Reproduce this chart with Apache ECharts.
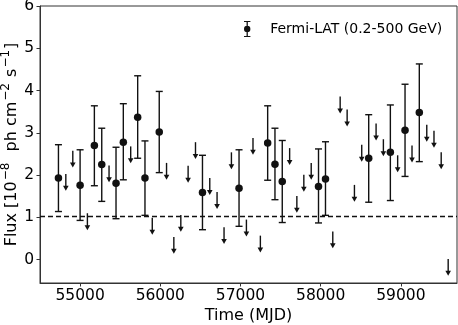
<!DOCTYPE html>
<html>
<head>
<meta charset="utf-8">
<script src="https://cdn.jsdelivr.net/npm/echarts@6/dist/echarts.min.js"></script>
<style>
  html, body { margin: 0; padding: 0; background: #fff; }
  #chart { width: 458px; height: 325px; }
</style>
</head>
<body>
<div id="chart"></div>
<script>
// detections (MJD, flux, lower and upper end of the error bar)
var detTime = [54730, 55000, 55178, 55270, 55448, 55539, 55718, 55809, 55987, 56526,
               56982, 57339, 57430, 57521, 57973, 58060, 58599, 58869, 59052, 59230];
var detFlux = [1.93, 1.76, 2.70, 2.25, 1.81, 2.78, 3.37, 1.93, 3.02, 1.59,
               1.69, 2.76, 2.26, 1.85, 1.73, 1.91, 2.40, 2.54, 3.06, 3.48];
var detLow  = [1.14, 0.93, 1.75, 1.38, 0.97, 1.89, 2.40, 1.05, 2.06, 0.71,
               0.79, 1.88, 1.42, 0.88, 0.87, 1.05, 1.36, 1.40, 1.97, 2.32];
var detHigh = [2.72, 2.60, 3.64, 3.11, 2.66, 3.69, 4.35, 2.81, 3.98, 2.47,
               2.60, 3.64, 3.11, 2.82, 2.62, 2.79, 3.43, 3.66, 4.15, 4.63];

// upper limits
var ulTime = [54822, 54909, 55091, 55361, 55631, 55900, 56078, 56169, 56256, 56347,
              56439, 56617, 56708, 56795, 56887, 57074, 57156, 57248, 57613, 57703,
              57790, 57882, 58151, 58243, 58330, 58421, 58512, 58691, 58782, 58960,
              59139, 59323, 59413, 59503, 59590];
var ulFlux = [2.03, 2.58, 1.10, 2.23, 2.68, 0.99, 2.29, 0.54, 1.06, 2.22,
              2.78, 1.93, 1.60, 0.77, 2.54, 0.95, 2.88, 0.57, 2.64, 1.51,
              2.01, 2.29, 0.67, 3.86, 3.55, 1.77, 2.72, 3.22, 2.85, 2.47,
              2.70, 3.19, 3.05, 2.54, 0.02];

var refLevel = 1.02;
var xTicks = [55000, 56000, 57000, 58000, 59000];
var yTicks = [0, 1, 2, 3, 4, 5, 6];

var ink = '#111';
var font = 'DejaVu Sans';

var errData = detTime.map(function (t, i) { return [t, detLow[i], detHigh[i]]; });
var dotData = detTime.map(function (t, i) { return [t, detFlux[i]]; });
var ulData = ulTime.map(function (t, i) { return [t, ulFlux[i]]; });

function renderErr(params, api) {
  var x = api.value(0);
  var lo = api.coord([x, api.value(1)]);
  var hi = api.coord([x, api.value(2)]);
  var c = 3.5;
  var st = { stroke: ink, lineWidth: 1.4 };
  return {
    type: 'group',
    children: [
      { type: 'line', shape: { x1: lo[0], y1: lo[1], x2: hi[0], y2: hi[1] }, style: st },
      { type: 'line', shape: { x1: lo[0] - c, y1: lo[1], x2: lo[0] + c, y2: lo[1] }, style: st },
      { type: 'line', shape: { x1: hi[0] - c, y1: hi[1], x2: hi[0] + c, y2: hi[1] }, style: st }
    ]
  };
}

function renderUl(params, api) {
  var x = api.value(0);
  var top = api.coord([x, api.value(1)]);
  var tip = api.coord([x, api.value(1) - 0.4]);
  var h = 5, w = 2.8;
  return {
    type: 'group',
    children: [
      { type: 'line', shape: { x1: top[0], y1: top[1], x2: tip[0], y2: tip[1] - h + 1 },
        style: { stroke: ink, lineWidth: 1.4 } },
      { type: 'polygon', shape: { points: [[tip[0] - w, tip[1] - h], [tip[0] + w, tip[1] - h], [tip[0], tip[1]]] },
        style: { fill: ink } }
    ]
  };
}

var chart = echarts.init(document.getElementById('chart'));
chart.setOption({
  animation: false,
  textStyle: { fontFamily: font },
  grid: {
    left: 40, right: 1, top: 6, bottom: 42,
    outerBoundsMode: 'none',
    containLabel: false,
    show: true, borderColor: '#333', borderWidth: 1, backgroundColor: 'transparent'
  },
  legend: {
    data: [{
      name: 'Fermi-LAT (0.2-500 GeV)',
      icon: 'path://M3,0H9V1H6.6V14H9V15H3V14H5.4V1H3Z M9,7.5A3,3 0 1,1 3,7.5A3,3 0 1,1 9,7.5Z'
    }],
    left: 239, top: 16,
    itemWidth: 8, itemHeight: 16,
    textStyle: { fontFamily: font, fontSize: 14, color: '#000', padding: [0, 0, 0, 14] },
    itemStyle: { color: ink }
  },
  xAxis: {
    type: 'value',
    min: 54500, max: 59700,
    name: 'Time (MJD)',
    nameLocation: 'middle',
    nameGap: 25,
    nameMoveOverlap: false,
    nameTextStyle: { fontFamily: font, fontSize: 16, color: '#000' },
    axisLine: { show: true, onZero: false, lineStyle: { color: '#333', width: 1 } },
    axisTick: { show: true, inside: false, length: 3.5, customValues: xTicks, lineStyle: { color: '#333' } },
    axisLabel: {
      customValues: xTicks, margin: 5,
      fontFamily: font, fontSize: 15.5, color: '#000',
      formatter: function (v) { return String(v); }
    },
    splitLine: { show: false }
  },
  yAxis: {
    type: 'value',
    min: -0.55, max: 6,
    name: '{b|Flux [10}{s|−8}{b|  ph cm}{s|−2}{b| s}{s|−1}{b|]}',
    nameLocation: 'middle',
    nameRotate: 90,
    nameGap: 16,
    nameMoveOverlap: false,
    nameTextStyle: {
      fontFamily: font, fontSize: 16, color: '#000',
      rich: {
        b: { fontFamily: font, fontSize: 16, lineHeight: 24, color: '#000' },
        s: { fontFamily: font, fontSize: 12, lineHeight: 12, verticalAlign: 'top', color: '#000', padding: [0, 1, 0, 1] }
      }
    },
    axisLine: { show: true, lineStyle: { color: '#333', width: 1 } },
    axisTick: { show: true, inside: false, length: 3.5, customValues: yTicks, lineStyle: { color: '#333' } },
    axisLabel: {
      customValues: yTicks, margin: 6,
      fontFamily: font, fontSize: 15.5, color: '#000'
    },
    splitLine: { show: false }
  },
  series: [
    {
      name: 'errbars',
      type: 'custom',
      renderItem: renderErr,
      encode: { x: 0, y: [1, 2] },
      data: errData,
      z: 2,
      markLine: {
        silent: true,
        symbol: 'none',
        label: { show: false },
        lineStyle: { color: ink, type: [5, 3], width: 1.4 },
        data: [{ yAxis: refLevel }]
      }
    },
    {
      name: 'Fermi-LAT (0.2-500 GeV)',
      type: 'scatter',
      data: dotData,
      symbol: 'circle',
      symbolSize: 7.5,
      itemStyle: { color: ink, opacity: 1 },
      z: 3
    },
    {
      name: 'upper limits',
      type: 'custom',
      renderItem: renderUl,
      encode: { x: 0, y: 1 },
      data: ulData,
      z: 2
    }
  ]
});
</script>
</body>
</html>
